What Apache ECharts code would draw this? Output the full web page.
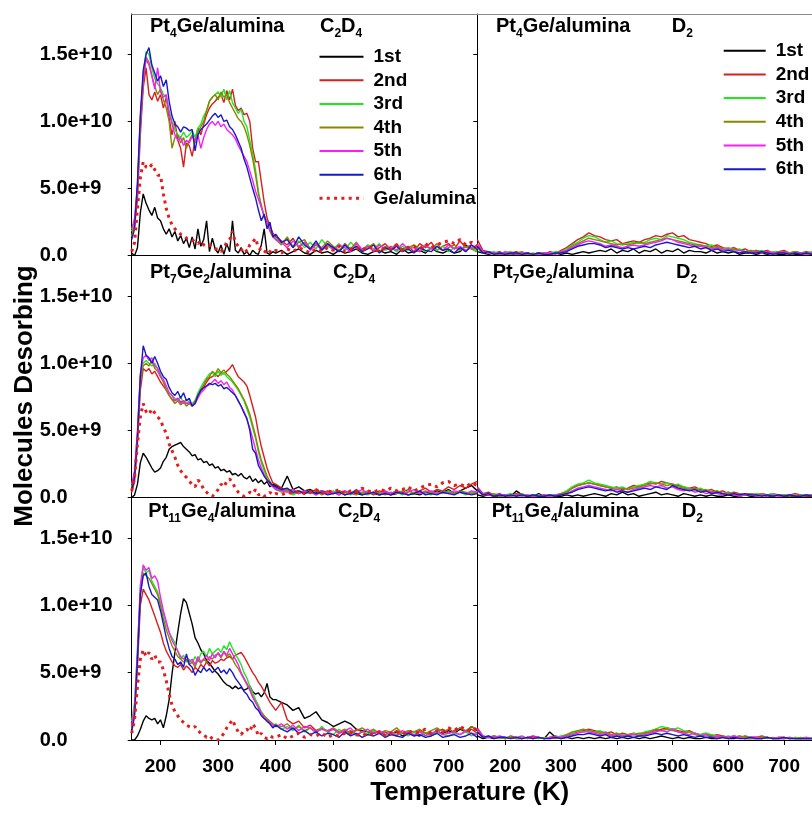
<!DOCTYPE html>
<html><head><meta charset="utf-8">
<script src="https://cdn.jsdelivr.net/npm/echarts@6/dist/echarts.min.js"></script>
<style>html,body{margin:0;padding:0;background:#fff}#c{width:812px;height:813px}</style>
</head><body><div id="c"></div><script>
// ---------- DATA (signal values in units of 1e9 molecules) ----------
const tempC2D4 = [150,155,160,165,170,175,180,185,190,195,
 200,205,210,215,220,225,230,235,240,245,
 250,255,260,265,270,275,280,285,290,295,
 300,305,310,315,320,325,330,335,340,345,
 350,355,360,365,370,375,380,385,390,395,
 400,410,420,430,440,450,460,470,480,490,
 500,510,520,530,540,550,560,570,580,590,
 600,610,620,630,640,650,660,670,680,690,
 700,710,720,730,740,750];
const tempD2 = [150,160,170,180,190,200,210,220,230,240,
 250,260,270,280,290,300,310,320,330,340,
 350,360,370,380,390,400,410,420,430,440,
 450,460,470,480,490,500,510,520,530,540,
 550,560,570,580,590,600,610,620,630,640,
 650,660,670,680,690,700,710,720,730,740,750];
const runNames = ['1st','2nd','3rd','4th','5th','6th'];
const refName = 'Ge/alumina';
const xTickValues = [200,300,400,500,600,700];
const yTickValues = [0,5e9,1e10,1.5e10];
const yTickLabels = ['0.0','5.0e+9','1.0e+10','1.5e+10'];

// Pt4Ge/alumina C2D4
const pt4ge_C2D4_1st = [0.2,0.0,0.6,3.2,4.6,3.9,3.4,3.0,3.6,2.8,
 2.6,2.0,1.6,2.0,1.4,1.8,1.1,1.5,0.9,1.3,
 0.6,1.4,0.5,2.0,0.7,1.2,2.6,0.3,1.3,0.5,
 0.2,0.8,0.1,0.9,0.3,2.6,0.4,0.2,0.6,0.1,
 0.3,0.0,0.4,0.2,0.1,0.8,2.0,0.2,0.1,0.3,
 0.2,0.4,0.1,0.3,0.5,0.2,0.1,0.4,0.2,0.3,
 0.1,0.4,0.2,0.3,0.5,0.2,0.1,0.3,0.4,0.2,
 0.3,0.1,0.5,0.2,0.3,0.4,0.2,0.6,0.3,0.2,
 0.4,0.2,0.3,0.8,0.5,0.3];
const pt4ge_C2D4_2nd = [1.5,2.2,4.2,9.0,12.5,14.0,12.0,11.6,12.2,11.5,
 12.0,11.0,11.8,10.2,9.0,10.0,8.6,8.0,6.6,8.4,
 8.2,7.4,8.6,9.5,9.0,9.8,10.5,11.0,11.3,11.5,
 11.8,12.0,11.4,12.3,11.6,12.4,11.2,10.8,11.0,10.5,
 10.6,10.0,8.0,7.0,7.0,5.5,4.0,2.8,2.2,1.7,
 1.4,1.1,0.8,1.3,0.6,1.0,0.5,0.9,0.4,0.8,
 0.6,0.3,0.9,0.5,0.7,0.4,0.8,0.3,0.6,0.9,
 0.4,0.8,0.5,0.7,0.3,0.9,0.6,1.0,0.4,0.7,
 0.9,0.5,1.1,0.6,0.8,0.4];
const pt4ge_C2D4_3rd = [1.8,2.6,5.0,10.0,13.5,15.2,15.0,14.0,13.2,12.8,
 12.5,12.0,11.8,10.8,10.0,9.4,9.0,8.8,9.2,8.8,
 9.0,9.3,8.8,9.5,9.8,10.4,10.8,11.5,11.8,12.0,
 12.2,11.8,12.4,11.6,12.3,11.4,11.0,10.6,10.9,10.0,
 9.6,8.6,7.6,6.4,4.8,3.6,3.0,2.4,1.9,1.5,
 1.3,0.9,1.3,0.7,1.1,0.6,1.0,0.5,1.2,0.7,
 0.5,0.9,0.4,1.0,0.6,0.3,0.8,0.5,0.9,0.4,
 0.6,0.3,0.7,0.4,0.8,0.5,0.3,0.6,0.4,0.7,
 0.3,0.6,0.4,0.7,0.5,0.3];
const pt4ge_C2D4_4th = [1.4,2.4,4.8,9.6,13.0,14.6,14.2,13.4,12.6,12.0,
 12.4,11.6,11.0,10.0,8.0,8.8,9.0,8.4,8.8,8.0,
 8.6,9.0,8.4,9.2,9.6,10.0,10.8,11.5,11.8,12.0,
 11.6,12.2,11.8,12.0,11.4,11.0,10.6,10.2,10.0,9.6,
 9.0,8.2,7.2,6.0,4.6,3.8,2.8,2.6,1.8,1.4,
 1.2,0.8,1.4,0.6,1.0,1.2,0.5,0.9,0.6,1.1,
 0.7,0.4,0.8,0.5,1.0,0.4,0.6,0.9,0.3,0.7,
 0.5,0.9,0.4,0.6,0.8,0.3,0.7,0.5,0.9,0.4,
 0.6,0.8,0.4,0.7,0.5,0.6];
const pt4ge_C2D4_5th = [2.0,2.8,5.2,10.2,13.2,14.8,14.4,13.4,12.4,14.0,
 12.2,11.8,12.0,10.6,9.8,9.0,8.6,8.8,8.2,8.6,
 8.4,8.9,8.6,9.0,8.0,8.8,9.4,9.8,10.0,9.7,
 10.0,9.6,9.8,9.4,9.2,9.0,8.7,8.2,7.8,7.4,
 7.0,6.3,5.6,4.8,4.2,3.6,3.0,2.5,1.9,1.6,
 1.2,1.0,0.6,1.1,0.7,1.0,0.4,0.8,0.5,0.9,
 0.4,0.8,0.6,0.3,0.9,0.5,0.7,0.4,0.8,0.5,
 0.7,0.4,0.9,0.5,0.6,0.3,0.8,0.5,0.7,0.4,
 0.8,0.5,0.7,0.4,0.6,0.8];
const pt4ge_C2D4_6th = [1.2,2.0,5.5,10.5,13.8,15.0,15.5,14.2,13.6,13.0,
 13.4,12.6,13.1,11.5,10.4,9.8,9.6,9.2,9.6,9.5,
 9.3,9.4,7.8,9.0,9.4,9.6,9.8,10.1,10.4,10.6,
 10.3,10.5,10.0,10.1,9.6,9.4,9.0,8.5,8.0,7.2,
 6.6,5.8,5.0,4.3,3.4,2.6,3.1,2.0,2.5,1.4,
 1.6,1.0,1.2,0.6,1.4,0.8,0.5,1.1,0.4,0.9,
 0.6,0.3,0.8,0.4,0.7,0.3,0.5,0.8,0.2,0.6,
 0.4,0.7,0.3,0.5,0.2,0.6,0.4,0.3,0.7,0.4,
 0.5,0.2,0.6,0.3,0.8,0.5];
const pt4ge_C2D4_ref = [0.3,1.0,3.5,5.8,7.0,6.6,6.5,6.8,6.4,6.0,
 6.0,4.6,3.5,2.8,2.3,2.0,1.8,1.6,1.5,1.3,
 1.3,1.2,1.0,0.9,1.1,0.8,0.7,0.8,0.6,0.5,
 0.5,0.3,0.6,1.0,1.2,1.8,1.0,0.7,0.4,0.6,
 0.3,0.8,1.0,1.3,0.6,0.4,0.2,0.5,0.3,0.2,
 0.4,0.2,0.5,0.3,0.6,0.4,0.2,0.5,0.3,0.6,
 0.4,0.7,0.3,0.5,0.6,0.4,0.7,0.5,0.3,0.6,
 0.5,0.8,0.4,0.6,0.7,0.5,0.9,0.6,0.8,1.0,
 1.1,0.9,1.2,0.8,1.0,0.7];

// Pt7Ge2/alumina C2D4
const pt7ge2_C2D4_1st = [0.0,0.2,1.0,2.6,3.3,3.0,2.6,2.2,1.9,2.0,
 2.2,2.7,3.0,3.6,3.8,3.9,4.0,4.1,3.8,3.6,
 3.4,3.1,3.2,2.8,2.9,2.6,2.7,2.4,2.5,2.2,
 2.3,2.0,2.1,1.9,2.0,1.7,1.8,1.6,1.8,1.5,
 1.4,1.6,1.2,1.4,1.1,1.3,1.0,1.2,0.8,1.0,
 0.9,0.7,1.6,0.6,0.8,0.5,0.6,0.4,0.5,0.4,
 0.3,0.5,0.2,0.4,0.3,0.2,0.4,0.3,0.2,0.3,
 0.2,0.3,0.4,0.2,0.3,0.2,0.4,0.3,0.5,0.4,
 0.6,0.3,0.5,0.7,0.9,0.5];
const pt7ge2_C2D4_2nd = [0.4,1.2,4.0,8.0,9.6,9.4,9.6,9.2,9.4,9.0,
 8.6,8.3,8.0,7.6,7.3,7.2,7.4,7.1,7.2,7.0,
 7.0,6.9,7.0,7.5,7.9,8.2,8.6,8.9,9.0,9.2,
 9.0,9.3,9.2,9.4,9.6,9.9,9.4,9.0,8.8,8.6,
 8.3,7.6,6.8,6.0,4.8,3.8,3.0,2.2,1.6,1.1,
 1.0,0.7,0.5,0.6,0.3,0.5,0.4,0.6,0.3,0.5,
 0.4,0.2,0.5,0.3,0.6,0.3,0.4,0.2,0.5,0.4,
 0.3,0.5,0.4,0.6,0.3,0.5,0.7,0.4,0.6,0.5,
 0.8,0.6,0.9,0.7,1.0,1.2];
const pt7ge2_C2D4_3rd = [0.8,1.8,4.8,9.0,10.0,10.2,10.0,9.8,10.0,9.6,
 9.2,8.6,8.2,7.8,7.6,7.4,7.2,7.5,7.0,7.3,
 7.1,7.0,7.2,7.8,8.2,8.6,8.9,9.2,9.3,9.0,
 9.4,9.1,9.3,9.0,8.8,8.6,8.3,8.0,7.6,7.2,
 6.6,6.0,5.2,4.4,3.4,2.6,2.0,1.4,1.0,0.8,
 0.6,0.4,0.5,0.2,0.4,0.3,0.5,0.2,0.4,0.3,
 0.5,0.3,0.4,0.2,0.5,0.3,0.2,0.4,0.3,0.5,
 0.3,0.4,0.2,0.5,0.3,0.4,0.3,0.2,0.4,0.3,
 0.5,0.3,0.4,0.2,0.4,0.3];
const pt7ge2_C2D4_4th = [0.6,1.6,4.4,8.6,9.8,10.0,9.8,10.2,9.6,9.4,
 9.0,8.6,8.0,7.6,7.3,7.0,7.2,6.9,7.1,6.8,
 7.0,6.8,7.2,7.6,8.0,8.4,8.8,9.0,9.4,9.2,
 9.6,9.3,9.5,9.2,9.0,8.7,8.4,8.1,7.7,7.3,
 6.8,6.2,5.4,4.6,3.6,2.8,2.2,1.6,1.2,0.9,
 0.7,0.5,0.6,0.3,0.5,0.4,0.3,0.5,0.2,0.4,
 0.3,0.5,0.4,0.3,0.2,0.4,0.5,0.3,0.4,0.2,
 0.4,0.3,0.5,0.2,0.4,0.3,0.5,0.4,0.3,0.5,
 0.4,0.3,0.5,0.4,0.3,0.4];
const pt7ge2_C2D4_5th = [1.0,2.0,5.0,9.2,10.4,10.6,10.2,10.4,9.8,9.6,
 9.0,8.8,8.3,7.8,7.6,7.2,7.4,7.0,7.2,7.0,
 7.1,6.9,7.0,7.4,7.8,8.0,8.3,8.4,8.6,8.8,
 8.5,8.7,8.4,8.6,8.2,8.0,7.6,7.2,6.8,6.4,
 5.8,5.2,4.4,3.6,2.8,2.2,1.7,1.3,1.0,0.8,
 0.6,0.5,0.4,0.6,0.3,0.5,0.4,0.2,0.5,0.3,
 0.4,0.2,0.5,0.3,0.4,0.6,0.3,0.4,0.2,0.5,
 0.3,0.5,0.3,0.4,0.6,0.3,0.4,0.5,0.3,0.4,
 0.3,0.5,0.4,0.3,0.5,0.4];
const pt7ge2_C2D4_6th = [0.5,1.5,4.5,9.0,11.3,10.6,10.4,10.0,10.5,10.0,
 9.4,9.0,8.8,8.2,7.8,7.6,7.9,7.4,7.8,7.2,
 7.4,6.8,7.0,7.6,8.0,8.2,8.3,8.5,8.4,8.5,
 8.3,8.4,8.1,8.2,8.0,7.8,7.6,7.2,6.8,6.3,
 5.9,5.0,3.6,3.3,2.4,2.0,1.6,1.3,1.1,0.9,
 0.8,0.6,0.7,0.4,0.5,0.3,0.5,0.3,0.4,0.2,
 0.3,0.4,0.2,0.3,0.5,0.2,0.3,0.4,0.2,0.3,
 0.2,0.4,0.3,0.2,0.3,0.5,0.2,0.3,0.2,0.4,
 0.3,0.2,0.4,0.3,0.2,0.3];
const pt7ge2_C2D4_ref = [0.5,1.5,4.0,6.0,7.0,6.4,6.2,6.6,6.3,6.0,
 5.8,5.2,4.8,4.0,3.5,3.0,2.4,2.0,1.7,1.5,
 1.2,1.0,0.8,1.3,1.1,0.6,0.4,0.2,0.1,0.3,
 0.6,1.0,0.8,1.2,1.4,1.1,0.7,0.4,0.2,0.1,
 0.2,0.4,0.3,0.6,0.2,0.3,0.1,0.2,0.4,0.2,
 0.3,0.2,0.4,0.3,0.5,0.3,0.4,0.6,0.3,0.5,
 0.4,0.6,0.3,0.5,0.4,0.7,0.5,0.4,0.6,0.5,
 0.7,0.5,0.6,0.8,0.5,0.7,0.9,1.0,0.8,1.1,
 1.2,0.9,1.0,0.8,1.1,0.9];

// Pt11Ge4/alumina C2D4
const pt11ge4_C2D4_1st = [0.0,0.0,0.3,0.8,1.4,1.8,1.6,1.5,1.6,1.2,
 1.5,0.9,1.8,3.0,4.9,6.5,8.0,9.4,10.5,10.2,
 9.4,8.6,7.6,7.2,6.7,6.4,5.9,5.7,5.4,5.1,
 4.9,4.6,4.3,4.1,4.0,3.8,4.0,3.8,3.9,3.7,
 3.8,4.0,3.6,3.4,3.5,3.2,3.5,4.2,3.2,3.0,
 3.0,2.8,2.6,2.2,2.4,1.6,1.8,2.1,1.5,1.3,
 1.0,1.2,1.4,1.2,0.8,0.7,0.6,0.5,0.6,0.4,
 0.4,0.6,0.3,0.5,0.4,0.3,0.5,0.4,0.6,0.5,
 0.7,0.5,0.8,0.6,1.0,0.7];
const pt11ge4_C2D4_2nd = [1.2,2.2,5.5,10.0,11.2,10.8,10.4,9.8,9.2,8.6,
 8.0,7.2,6.6,6.2,5.8,5.5,5.4,5.6,5.2,5.5,
 5.3,5.0,5.4,5.2,5.6,5.4,5.8,5.5,5.9,5.7,
 5.8,6.0,5.9,6.1,6.2,6.0,6.3,6.4,6.5,6.2,
 5.8,5.4,5.0,4.7,4.3,4.0,3.6,3.2,2.8,2.5,
 2.2,2.8,1.5,1.2,1.4,0.9,1.1,0.7,0.9,0.6,
 0.8,0.5,0.7,0.4,0.8,0.6,0.4,0.7,0.5,0.6,
 0.4,0.7,0.5,0.6,0.3,0.7,0.5,0.4,0.6,0.8,
 0.5,0.7,0.9,0.6,0.8,0.5];
const pt11ge4_C2D4_3rd = [1.4,2.8,6.8,11.2,12.8,12.4,12.6,11.8,11.4,11.0,
 10.2,9.4,8.6,8.0,7.6,7.2,6.6,6.0,6.3,5.8,
 6.0,5.7,6.2,5.8,6.4,6.6,6.2,6.8,6.4,6.6,
 6.8,6.5,7.0,6.7,7.3,6.8,6.4,6.0,5.6,5.0,
 4.6,4.0,3.5,3.0,2.6,2.1,1.8,1.4,1.2,1.0,
 1.2,0.8,1.0,0.7,1.1,0.6,0.9,0.5,1.0,0.6,
 0.4,0.8,0.5,0.7,0.3,0.6,0.4,0.7,0.5,0.3,
 0.6,0.4,0.5,0.3,0.6,0.4,0.5,0.3,0.6,0.4,
 0.3,0.5,0.4,0.6,0.3,0.5];
const pt11ge4_C2D4_4th = [0.8,2.0,6.0,10.8,12.4,12.2,12.0,11.6,11.2,10.8,
 10.0,9.0,8.2,7.6,7.0,6.6,6.2,6.0,5.8,6.0,
 5.6,5.8,5.4,6.0,5.7,6.0,5.8,6.2,6.0,6.3,
 6.4,6.1,6.5,6.2,6.4,6.0,5.6,5.3,4.9,4.5,
 4.1,3.7,3.2,2.8,2.4,2.0,1.8,1.6,1.4,1.2,
 1.1,1.0,1.2,0.8,1.0,0.7,0.9,0.6,0.8,0.7,
 0.9,0.6,0.8,0.5,0.7,0.9,0.6,0.8,0.5,0.7,
 0.6,0.9,0.5,0.7,0.6,0.8,0.5,0.7,0.9,0.6,
 0.8,0.6,0.9,0.7,1.0,0.8];
const pt11ge4_C2D4_5th = [1.0,2.4,6.5,11.5,13.0,12.6,12.8,12.0,12.2,11.8,
 10.6,9.6,8.8,8.0,7.4,7.0,6.6,6.2,6.0,6.2,
 5.8,6.0,5.6,6.2,5.8,6.0,6.3,5.9,6.4,6.1,
 6.5,6.2,6.6,6.3,6.8,6.4,6.0,5.6,5.0,4.6,
 4.2,3.8,3.2,2.8,2.4,2.0,1.6,1.5,1.3,1.1,
 1.0,1.2,0.8,1.1,0.7,1.0,0.9,0.6,0.8,0.7,
 0.8,0.5,0.7,0.9,0.4,0.6,0.8,0.5,0.7,0.4,
 0.6,0.3,0.7,0.5,0.4,0.6,0.3,0.5,0.7,0.4,
 0.5,0.6,0.4,0.7,0.5,0.4];
const pt11ge4_C2D4_6th = [0.6,1.8,6.0,10.8,12.2,12.4,11.4,10.8,10.6,10.4,
 9.6,8.6,7.6,6.8,6.2,6.0,5.6,5.8,5.4,6.4,
 5.6,5.4,4.8,5.2,5.0,5.4,5.1,5.3,5.0,5.2,
 5.4,5.0,5.2,4.9,5.3,5.0,4.6,4.3,4.0,3.6,
 3.4,3.0,2.8,2.4,2.2,1.8,1.6,1.4,1.2,0.9,
 1.1,0.8,0.6,0.9,0.5,0.7,0.4,0.6,0.3,0.5,
 0.4,0.2,0.6,0.3,0.5,0.2,0.4,0.3,0.5,0.2,
 0.4,0.3,0.2,0.5,0.3,0.4,0.2,0.3,0.5,0.2,
 0.3,0.4,0.2,0.3,0.5,0.2];
const pt11ge4_C2D4_ref = [0.5,1.5,4.0,6.0,6.7,6.2,6.5,6.0,6.3,5.8,
 5.8,5.2,4.4,3.4,2.6,2.1,1.8,1.5,1.3,1.1,
 1.0,0.9,1.0,0.7,0.5,0.4,0.2,0.3,0.1,0.0,
 0.0,0.2,0.5,0.9,1.2,1.5,1.0,0.6,0.4,0.7,
 0.8,0.6,1.2,0.9,0.3,0.5,0.2,0.1,0.3,0.2,
 0.2,0.4,0.1,0.3,0.5,0.2,0.4,0.3,0.5,0.2,
 0.4,0.3,0.5,0.6,0.4,0.3,0.5,0.4,0.6,0.3,
 0.5,0.6,0.4,0.7,0.5,0.6,0.8,0.5,0.7,0.6,
 0.9,0.7,1.0,0.8,0.6,0.9];

// Pt4Ge/alumina D2
const pt4ge_D2_1st = [0.3,0.2,0.1,0.2,0.1,0.2,0.1,0.1,0.2,0.1,
 0.1,0.2,0.1,0.1,0.2,0.1,0.2,0.1,0.2,0.3,
 0.2,0.3,0.4,0.3,0.5,0.2,0.4,0.3,0.5,0.2,
 0.4,0.3,0.5,0.2,0.4,0.3,0.5,0.2,0.4,0.3,
 0.3,0.2,0.4,0.2,0.3,0.2,0.3,0.1,0.2,0.2,
 0.1,0.2,0.1,0.2,0.1,0.1,0.2,0.1,0.1,0.2,0.1];
const pt4ge_D2_2nd = [1.2,0.4,0.3,0.2,0.3,0.1,0.2,0.3,0.1,0.2,
 0.1,0.2,0.1,0.3,0.2,0.4,0.6,0.9,1.2,1.4,
 1.7,1.5,1.4,1.2,1.1,1.2,0.9,1.0,1.1,1.0,
 1.2,1.3,1.5,1.4,1.6,1.7,1.4,1.5,1.2,1.1,
 1.0,0.9,0.7,0.8,0.6,0.5,0.6,0.4,0.5,0.3,
 0.4,0.3,0.4,0.2,0.3,0.4,0.2,0.3,0.2,0.3,0.2];
const pt4ge_D2_3rd = [0.8,0.3,0.2,0.3,0.1,0.2,0.3,0.1,0.2,0.1,
 0.2,0.1,0.2,0.1,0.3,0.3,0.5,0.8,1.0,1.3,
 1.5,1.4,1.2,1.0,1.1,0.9,0.8,0.9,1.0,0.9,
 1.0,1.2,1.3,1.2,1.5,1.4,1.3,1.2,1.0,0.9,
 0.8,0.7,0.8,0.6,0.5,0.6,0.4,0.5,0.3,0.4,
 0.3,0.4,0.2,0.3,0.2,0.3,0.2,0.3,0.2,0.2,0.3];
const pt4ge_D2_4th = [0.6,0.2,0.3,0.1,0.2,0.2,0.1,0.2,0.3,0.1,
 0.1,0.2,0.2,0.1,0.2,0.3,0.4,0.7,0.9,1.1,
 1.3,1.2,1.1,1.0,0.9,0.8,0.9,0.8,0.9,1.0,
 0.9,1.0,1.1,1.2,1.3,1.2,1.1,1.0,0.9,0.8,
 0.8,0.7,0.6,0.7,0.5,0.4,0.5,0.4,0.3,0.4,
 0.3,0.2,0.3,0.2,0.3,0.2,0.2,0.3,0.2,0.2,0.2];
const pt4ge_D2_5th = [0.9,0.3,0.2,0.2,0.1,0.3,0.2,0.1,0.2,0.2,
 0.1,0.1,0.2,0.2,0.1,0.3,0.4,0.6,0.8,1.0,
 1.1,1.0,0.9,0.7,0.8,0.7,0.6,0.7,0.8,0.7,
 0.8,0.9,1.0,1.1,1.3,1.2,1.0,0.9,0.8,0.7,
 0.7,0.6,0.5,0.6,0.4,0.5,0.3,0.4,0.3,0.2,
 0.3,0.2,0.3,0.2,0.2,0.3,0.1,0.2,0.2,0.1,0.2];
const pt4ge_D2_6th = [0.7,0.2,0.3,0.1,0.2,0.1,0.2,0.2,0.1,0.2,
 0.1,0.2,0.1,0.1,0.2,0.2,0.3,0.5,0.7,0.8,
 0.9,0.9,0.8,0.6,0.7,0.6,0.5,0.6,0.5,0.6,
 0.7,0.6,0.8,0.9,1.0,0.9,0.8,0.7,0.6,0.7,
 0.5,0.6,0.4,0.5,0.3,0.4,0.3,0.2,0.3,0.2,
 0.2,0.3,0.2,0.1,0.2,0.2,0.1,0.2,0.1,0.2,0.1];

// Pt7Ge2/alumina D2
const pt7ge2_D2_1st = [0.2,0.1,0.2,0.1,0.1,0.2,0.1,0.5,0.2,0.1,
 0.1,0.3,0.1,0.2,0.1,0.1,0.2,0.1,0.2,0.1,
 0.2,0.3,0.2,0.1,0.3,0.2,0.4,0.2,0.3,0.1,
 0.2,0.3,0.4,0.2,0.3,0.2,0.1,0.3,0.2,0.1,
 0.2,0.1,0.2,0.1,0.1,0.2,0.1,0.1,0.2,0.1,
 0.1,0.2,0.1,0.1,0.2,0.1,0.1,0.1,0.2,0.1,0.1];
const pt7ge2_D2_2nd = [0.8,0.3,0.4,0.2,0.3,0.1,0.2,0.3,0.2,0.1,
 0.2,0.1,0.2,0.1,0.2,0.3,0.4,0.7,0.9,1.0,
 1.1,1.0,0.9,0.8,0.7,0.8,0.6,0.7,0.9,0.8,
 1.0,1.1,1.0,1.2,1.1,1.0,0.9,0.8,0.7,0.8,
 0.6,0.5,0.6,0.4,0.5,0.3,0.4,0.3,0.2,0.3,
 0.2,0.3,0.2,0.3,0.2,0.1,0.2,0.3,0.2,0.1,0.2];
const pt7ge2_D2_3rd = [0.6,0.2,0.3,0.2,0.1,0.2,0.3,0.1,0.2,0.2,
 0.1,0.2,0.1,0.2,0.2,0.3,0.5,0.8,1.0,1.1,
 1.3,1.1,1.0,0.9,0.8,0.7,0.8,0.6,0.8,0.9,
 1.0,1.2,1.1,1.0,1.1,0.9,1.0,0.8,0.7,0.6,
 0.7,0.5,0.4,0.5,0.3,0.4,0.3,0.2,0.3,0.2,
 0.3,0.2,0.2,0.3,0.1,0.2,0.2,0.1,0.2,0.2,0.1];
const pt7ge2_D2_4th = [0.5,0.2,0.2,0.3,0.1,0.2,0.1,0.2,0.3,0.1,
 0.2,0.1,0.1,0.2,0.1,0.3,0.4,0.7,0.9,1.0,
 1.1,1.0,0.9,0.8,0.7,0.6,0.7,0.6,0.7,0.8,
 0.9,1.0,1.1,1.0,0.9,1.0,0.8,0.7,0.6,0.7,
 0.5,0.6,0.4,0.5,0.3,0.4,0.2,0.3,0.2,0.3,
 0.2,0.3,0.2,0.1,0.2,0.2,0.1,0.2,0.1,0.2,0.2];
const pt7ge2_D2_5th = [0.7,0.3,0.2,0.1,0.2,0.2,0.1,0.2,0.1,0.2,
 0.1,0.1,0.2,0.1,0.2,0.2,0.3,0.5,0.7,0.8,
 0.9,0.8,0.7,0.6,0.5,0.6,0.5,0.4,0.6,0.7,
 0.8,0.9,0.8,0.9,0.7,0.8,0.6,0.5,0.6,0.4,
 0.5,0.3,0.4,0.3,0.2,0.3,0.2,0.1,0.2,0.2,
 0.1,0.2,0.1,0.2,0.1,0.1,0.2,0.1,0.1,0.2,0.1];
const pt7ge2_D2_6th = [0.6,0.2,0.3,0.1,0.2,0.1,0.2,0.1,0.2,0.1,
 0.2,0.1,0.1,0.2,0.1,0.2,0.3,0.4,0.6,0.7,
 0.8,0.7,0.6,0.5,0.6,0.4,0.5,0.4,0.5,0.6,
 0.7,0.6,0.8,0.7,0.6,0.9,0.7,0.6,0.5,0.6,
 0.4,0.5,0.3,0.4,0.3,0.2,0.3,0.2,0.3,0.2,
 0.2,0.1,0.2,0.1,0.2,0.1,0.2,0.1,0.1,0.2,0.1];

// Pt11Ge4/alumina D2
const pt11ge4_D2_1st = [0.3,0.1,0.2,0.1,0.2,0.1,0.2,0.1,0.1,0.2,
 0.1,0.2,0.1,0.6,0.2,0.1,0.2,0.1,0.2,0.1,
 0.2,0.1,0.2,0.1,0.2,0.1,0.2,0.1,0.2,0.1,
 0.2,0.1,0.2,0.3,0.2,0.1,0.2,0.1,0.2,0.1,
 0.1,0.2,0.1,0.1,0.2,0.1,0.1,0.2,0.1,0.1,
 0.1,0.1,0.2,0.1,0.1,0.1,0.2,0.1,0.1,0.1,0.1];
const pt11ge4_D2_2nd = [0.9,0.3,0.2,0.3,0.2,0.1,0.3,0.2,0.1,0.2,
 0.3,0.2,0.1,0.2,0.3,0.2,0.3,0.5,0.6,0.7,
 0.8,0.7,0.6,0.5,0.6,0.4,0.5,0.4,0.5,0.4,
 0.5,0.6,0.7,0.8,0.9,0.8,0.7,0.6,0.7,0.5,
 0.4,0.5,0.3,0.4,0.3,0.2,0.3,0.2,0.3,0.2,
 0.2,0.3,0.2,0.1,0.2,0.2,0.1,0.2,0.1,0.2,0.1];
const pt11ge4_D2_3rd = [0.7,0.2,0.3,0.2,0.1,0.2,0.2,0.1,0.2,0.1,
 0.2,0.1,0.2,0.1,0.2,0.3,0.4,0.5,0.7,0.6,
 0.7,0.6,0.7,0.5,0.4,0.5,0.4,0.3,0.5,0.4,
 0.6,0.7,0.8,1.0,0.9,0.8,0.9,0.7,0.6,0.5,
 0.4,0.5,0.4,0.3,0.2,0.3,0.2,0.3,0.2,0.2,
 0.1,0.2,0.2,0.1,0.2,0.1,0.1,0.2,0.1,0.1,0.2];
const pt11ge4_D2_4th = [0.6,0.2,0.2,0.3,0.2,0.1,0.2,0.2,0.1,0.2,
 0.1,0.2,0.1,0.2,0.1,0.2,0.4,0.6,0.7,0.8,
 0.7,0.6,0.5,0.6,0.4,0.5,0.3,0.4,0.4,0.5,
 0.5,0.6,0.8,0.7,0.8,0.7,0.6,0.5,0.6,0.4,
 0.3,0.4,0.3,0.2,0.3,0.2,0.2,0.3,0.2,0.1,
 0.2,0.2,0.1,0.2,0.1,0.2,0.1,0.1,0.2,0.1,0.1];
const pt11ge4_D2_5th = [0.8,0.3,0.2,0.2,0.3,0.2,0.1,0.2,0.3,0.1,
 0.2,0.2,0.1,0.2,0.2,0.2,0.3,0.4,0.5,0.6,
 0.6,0.5,0.4,0.5,0.3,0.4,0.3,0.3,0.4,0.3,
 0.4,0.5,0.6,0.7,0.6,0.8,0.6,0.5,0.4,0.5,
 0.3,0.4,0.2,0.3,0.2,0.2,0.3,0.2,0.1,0.2,
 0.2,0.1,0.2,0.1,0.2,0.1,0.2,0.1,0.1,0.2,0.1];
const pt11ge4_D2_6th = [0.6,0.2,0.3,0.1,0.2,0.2,0.1,0.2,0.1,0.2,
 0.1,0.2,0.1,0.1,0.2,0.1,0.2,0.3,0.4,0.4,
 0.5,0.4,0.3,0.4,0.2,0.3,0.2,0.3,0.2,0.3,
 0.3,0.4,0.5,0.4,0.5,0.4,0.3,0.4,0.3,0.2,
 0.3,0.2,0.2,0.1,0.2,0.1,0.2,0.1,0.1,0.2,
 0.1,0.1,0.2,0.1,0.1,0.2,0.1,0.1,0.1,0.1,0.1];

// ---------- CHART ----------
const FONT = '"Liberation Sans", Arial, Helvetica, sans-serif';
const COLORS = {'1st':'#000000','2nd':'#d81e1e','3rd':'#1ee81e','4th':'#878700','5th':'#f81ef8','6th':'#1818c8','Ge/alumina':'#e41c1c'};

const panels = [
  {temps: tempC2D4, sets: [pt4ge_C2D4_1st,pt4ge_C2D4_2nd,pt4ge_C2D4_3rd,pt4ge_C2D4_4th,pt4ge_C2D4_5th,pt4ge_C2D4_6th], ref: pt4ge_C2D4_ref},
  {temps: tempD2, sets: [pt4ge_D2_1st,pt4ge_D2_2nd,pt4ge_D2_3rd,pt4ge_D2_4th,pt4ge_D2_5th,pt4ge_D2_6th]},
  {temps: tempC2D4, sets: [pt7ge2_C2D4_1st,pt7ge2_C2D4_2nd,pt7ge2_C2D4_3rd,pt7ge2_C2D4_4th,pt7ge2_C2D4_5th,pt7ge2_C2D4_6th], ref: pt7ge2_C2D4_ref},
  {temps: tempD2, sets: [pt7ge2_D2_1st,pt7ge2_D2_2nd,pt7ge2_D2_3rd,pt7ge2_D2_4th,pt7ge2_D2_5th,pt7ge2_D2_6th]},
  {temps: tempC2D4, sets: [pt11ge4_C2D4_1st,pt11ge4_C2D4_2nd,pt11ge4_C2D4_3rd,pt11ge4_C2D4_4th,pt11ge4_C2D4_5th,pt11ge4_C2D4_6th], ref: pt11ge4_C2D4_ref},
  {temps: tempD2, sets: [pt11ge4_D2_1st,pt11ge4_D2_2nd,pt11ge4_D2_3rd,pt11ge4_D2_4th,pt11ge4_D2_5th,pt11ge4_D2_6th]}
];
panels.forEach((p, i) => {
  p.sets.concat(p.ref ? [p.ref] : []).forEach((s, j) => {
    if (s.length !== p.temps.length) throw new Error('length mismatch panel ' + i + ' set ' + j + ': ' + s.length);
  });
});

const colLeft = [131.7, 477.3], colWidth = 345.6;
const rowTop = [14, 255.7, 497.6], rowHeight = [241.7, 241.9, 242.4];

const grid = [], xAxis = [], yAxis = [], series = [];
for (let r = 0; r < 3; r++) {
  for (let c = 0; c < 2; c++) {
    const i = r * 2 + c;
    grid.push({left: colLeft[c], top: rowTop[r], width: colWidth, height: rowHeight[r], containLabel: false});
    xAxis.push({
      type: 'value', gridIndex: i, min: 150, max: 750,
      axisLine: {show: true, onZero: false, lineStyle: {color: '#000', width: 1}},
      axisTick: {show: r === 2, customValues: xTickValues, length: 5, lineStyle: {color: '#000'}},
      axisLabel: {show: r === 2, customValues: xTickValues, margin: 17, fontSize: 19, fontWeight: 'bold', color: '#000', fontFamily: FONT},
      splitLine: {show: false}
    });
    yAxis.push({
      type: 'value', gridIndex: i, min: 0, max: 18e9,
      axisLine: {show: true, onZero: false, lineStyle: {color: '#000', width: 1}},
      axisTick: {show: true, customValues: yTickValues, length: 4, lineStyle: {color: '#000'}},
      axisLabel: {show: c === 0, customValues: yTickValues, align: 'left', margin: 92, fontSize: 20, fontWeight: 'bold', color: '#000', fontFamily: FONT,
        formatter: v => { const k = yTickValues.indexOf(v); return k >= 0 ? yTickLabels[k] : ''; }},
      splitLine: {show: false}
    });
    const p = panels[i];
    p.sets.forEach((vals, j) => {
      const name = runNames[j];
      series.push({
        type: 'line', name, xAxisIndex: i, yAxisIndex: i, symbol: 'none', showSymbol: false, animation: false,
        data: p.temps.map((t, k) => [t, vals[k] * 1e9]),
        lineStyle: {color: COLORS[name], width: 1.4}, itemStyle: {color: COLORS[name]}
      });
    });
    if (p.ref) {
      series.push({
        type: 'line', name: refName, xAxisIndex: i, yAxisIndex: i, symbol: 'none', showSymbol: false, animation: false,
        data: p.temps.map((t, k) => [t, p.ref[k] * 1e9]),
        lineStyle: {color: COLORS[refName], width: 3, type: [3, 4.3], cap: 'butt'}, itemStyle: {color: COLORS[refName]}
      });
    }
  }
}
// gray top frame for the top row
[0, 1].forEach(i => xAxis.push({
  type: 'value', gridIndex: i, position: 'top', min: 150, max: 750,
  axisLine: {show: true, onZero: false, lineStyle: {color: '#8a8a8a', width: 1}},
  axisTick: {show: false}, axisLabel: {show: false}, splitLine: {show: false}
}));

const rich = {
  n: {fontSize: 20, fontWeight: 'bold', color: '#000', fontFamily: FONT, lineHeight: 26},
  s: {fontSize: 12, fontWeight: 'bold', color: '#000', fontFamily: FONT, lineHeight: 12, verticalAlign: 'bottom'}
};
function ttl(text, left, top) {
  return {text, left, top, padding: 0, textStyle: {rich, fontSize: 20, lineHeight: 26}};
}
const title = [
  ttl('{n|Pt}{s|4}{n|Ge/alumina}', 150, 13.7),
  ttl('{n|C}{s|2}{n|D}{s|4}', 320, 13.7),
  ttl('{n|Pt}{s|4}{n|Ge/alumina}', 496, 13.7),
  ttl('{n|D}{s|2}', 671.7, 13.7),
  ttl('{n|Pt}{s|7}{n|Ge}{s|2}{n|/alumina}', 150, 259.7),
  ttl('{n|C}{s|2}{n|D}{s|4}', 333, 259.7),
  ttl('{n|Pt}{s|7}{n|Ge}{s|2}{n|/alumina}', 492.7, 259.7),
  ttl('{n|D}{s|2}', 676, 259.7),
  ttl('{n|Pt}{s|11}{n|Ge}{s|4}{n|/alumina}', 148.3, 498.7),
  ttl('{n|C}{s|2}{n|D}{s|4}', 338, 498.7),
  ttl('{n|Pt}{s|11}{n|Ge}{s|4}{n|/alumina}', 491.7, 498.7),
  ttl('{n|D}{s|2}', 681.7, 498.7)
];

const legendText = {fontSize: 19, fontWeight: 'bold', color: '#000', fontFamily: FONT, lineHeight: 20, padding: [0, 0, 0, 5]};
const legendItem = {opacity: 0, borderWidth: 0};
const legend = [
  {orient: 'vertical', left: 318, top: 46.7, padding: 0, itemWidth: 44, itemHeight: 14, itemGap: 3.6,
   data: runNames.map(n => ({name: n})).concat([{name: refName, lineStyle: {width: 3, type: [3, 4.3], cap: 'butt'}}]),
   textStyle: legendText, itemStyle: legendItem},
  {orient: 'vertical', left: 722.7, top: 40.7, padding: 0, itemWidth: 42, itemHeight: 14, itemGap: 3.7,
   data: runNames.slice(), textStyle: legendText, itemStyle: legendItem}
];

const graphic = [
  {type: 'text', x: 25, y: 396, rotation: Math.PI / 2,
   style: {text: 'Molecules Desorbing', fontSize: 26, fontWeight: 'bold', fontFamily: FONT, fill: '#000', align: 'center', verticalAlign: 'middle'}},
  {type: 'text', x: 469.7, y: 793,
   style: {text: 'Temperature (K)', fontSize: 26, fontWeight: 'bold', fontFamily: FONT, fill: '#000', align: 'center', verticalAlign: 'middle'}}
];

const chart = echarts.init(document.getElementById('c'), null, {renderer: 'canvas'});
chart.setOption({backgroundColor: '#fff', animation: false, title, legend, grid, xAxis, yAxis, series, graphic});
</script></body></html>
